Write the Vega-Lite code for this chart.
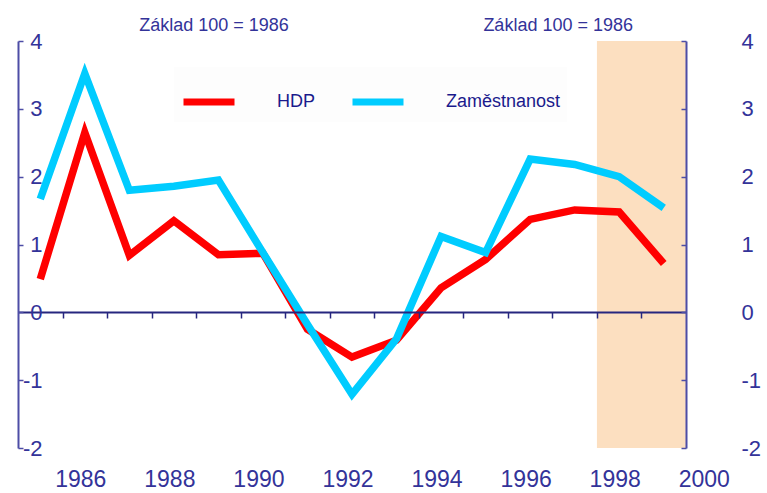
{
  "$schema": "https://vega.github.io/schema/vega-lite/v6.json",
  "width": 668,
  "height": 407,
  "autosize": {"type": "none"},
  "padding": {"left": 18, "top": 41, "right": 81, "bottom": 45},
  "background": "white",
  "config": {"view": {"stroke": null}, "font": "Liberation Sans"},
  "layer": [
    {
      "data": {"values": [{"start": 1997.5, "end": 1999.5, "lo": -2, "hi": 4}]},
      "mark": {"type": "rect", "color": "#fcdfc0"},
      "encoding": {
        "x": {
          "field": "start", "type": "quantitative",
          "scale": {"domain": [1984.5, 1999.5], "nice": false, "zero": false},
          "axis": {
            "orient": "bottom", "offset": -136, "title": null, "labels": false, "grid": false,
            "values": [1985.5, 1986.5, 1987.5, 1988.5, 1989.5, 1990.5, 1991.5, 1992.5, 1993.5, 1994.5, 1995.5, 1996.5, 1997.5, 1998.5],
            "domainColor": "#26267f", "domainWidth": 2, "tickColor": "#26267f", "tickSize": 6, "tickWidth": 1.5, "zindex": 1
          }
        },
        "x2": {"field": "end"},
        "y": {
          "field": "lo", "type": "quantitative",
          "scale": {"domain": [-2, 4], "nice": false, "zero": false},
          "axis": {
            "orient": "left", "title": null, "grid": false, "values": [-2, -1, 0, 1, 2, 3, 4],
            "labelExpr": "'' + datum.value",
            "domainColor": "#4d4da6", "domainWidth": 2, "tickColor": "#4d4da6", "tickSize": -5, "tickWidth": 1.5,
            "labelPadding": -19, "labelAlign": "right", "labelFontSize": 22, "labelColor": "#333399", "labelFont": "Liberation Sans", "zindex": 1
          }
        },
        "y2": {"field": "hi"}
      }
    },
    {
      "data": {"values": [
        {"year": 1985, "series": "HDP", "value": 0.49},
        {"year": 1986, "series": "HDP", "value": 2.65},
        {"year": 1987, "series": "HDP", "value": 0.84},
        {"year": 1988, "series": "HDP", "value": 1.35},
        {"year": 1989, "series": "HDP", "value": 0.85},
        {"year": 1990, "series": "HDP", "value": 0.87},
        {"year": 1991, "series": "HDP", "value": -0.25},
        {"year": 1992, "series": "HDP", "value": -0.66},
        {"year": 1993, "series": "HDP", "value": -0.41},
        {"year": 1994, "series": "HDP", "value": 0.36},
        {"year": 1995, "series": "HDP", "value": 0.78},
        {"year": 1996, "series": "HDP", "value": 1.37},
        {"year": 1997, "series": "HDP", "value": 1.51},
        {"year": 1998, "series": "HDP", "value": 1.48},
        {"year": 1999, "series": "HDP", "value": 0.72},
        {"year": 1985, "series": "Zaměstnanost", "value": 1.67},
        {"year": 1986, "series": "Zaměstnanost", "value": 3.52},
        {"year": 1987, "series": "Zaměstnanost", "value": 1.80},
        {"year": 1988, "series": "Zaměstnanost", "value": 1.86},
        {"year": 1989, "series": "Zaměstnanost", "value": 1.95},
        {"year": 1990, "series": "Zaměstnanost", "value": 0.88},
        {"year": 1991, "series": "Zaměstnanost", "value": -0.18},
        {"year": 1992, "series": "Zaměstnanost", "value": -1.21},
        {"year": 1993, "series": "Zaměstnanost", "value": -0.39},
        {"year": 1994, "series": "Zaměstnanost", "value": 1.12},
        {"year": 1995, "series": "Zaměstnanost", "value": 0.88},
        {"year": 1996, "series": "Zaměstnanost", "value": 2.26},
        {"year": 1997, "series": "Zaměstnanost", "value": 2.18},
        {"year": 1998, "series": "Zaměstnanost", "value": 2.00},
        {"year": 1999, "series": "Zaměstnanost", "value": 1.54}
      ]},
      "mark": {"type": "line", "strokeWidth": 7.5, "strokeJoin": "miter"},
      "encoding": {
        "x": {"field": "year", "type": "quantitative"},
        "y": {
          "field": "value", "type": "quantitative",
          "axis": {
            "orient": "right", "title": null, "grid": false, "values": [-2, -1, 0, 1, 2, 3, 4],
            "labelExpr": "'' + datum.value",
            "domainColor": "#4d4da6", "domainWidth": 2, "tickColor": "#4d4da6", "tickSize": -5, "tickWidth": 1.5,
            "labelPadding": 60, "labelAlign": "left", "labelFontSize": 22, "labelColor": "#333399", "labelFont": "Liberation Sans", "zindex": 1
          }
        },
        "color": {
          "field": "series", "type": "nominal",
          "scale": {"domain": ["HDP", "Zaměstnanost"], "range": ["#ff0000", "#00ccff"]},
          "legend": {
            "orient": "none", "legendX": 156, "legendY": 26, "direction": "horizontal", "title": null,
            "symbolType": "stroke", "symbolSize": 2601, "symbolStrokeWidth": 7,
            "labelFontSize": 18, "labelColor": "#1a1a8c", "labelFont": "Liberation Sans",
            "labelOffset": 39, "columnPadding": 22, "padding": 6, "fillColor": "#fdfdfd"
          }
        }
      }
    },
    {
      "data": {"values": [
        {"year": 1986, "label": "1986"},
        {"year": 1988, "label": "1988"},
        {"year": 1990, "label": "1990"},
        {"year": 1992, "label": "1992"},
        {"year": 1994, "label": "1994"},
        {"year": 1996, "label": "1996"},
        {"year": 1998, "label": "1998"},
        {"year": 2000, "label": "2000"}
      ]},
      "mark": {"type": "text", "fontSize": 23, "color": "#333399", "dy": 32, "dx": -4, "baseline": "middle", "align": "center", "font": "Liberation Sans"},
      "encoding": {
        "x": {"field": "year", "type": "quantitative"},
        "y": {"datum": -2, "type": "quantitative", "axis": null},
        "text": {"field": "label", "type": "nominal"}
      }
    },
    {
      "data": {"values": [
        {"pos": 1988.9, "label": "Základ 100 = 1986"},
        {"pos": 1996.63, "label": "Základ 100 = 1986"}
      ]},
      "mark": {"type": "text", "fontSize": 18, "color": "#333399", "dy": -10, "baseline": "alphabetic", "align": "center", "font": "Liberation Sans"},
      "encoding": {
        "x": {"field": "pos", "type": "quantitative"},
        "y": {"datum": 4, "type": "quantitative", "axis": null},
        "text": {"field": "label", "type": "nominal"}
      }
    }
  ],
  "resolve": {"axis": {"y": "independent"}}
}
